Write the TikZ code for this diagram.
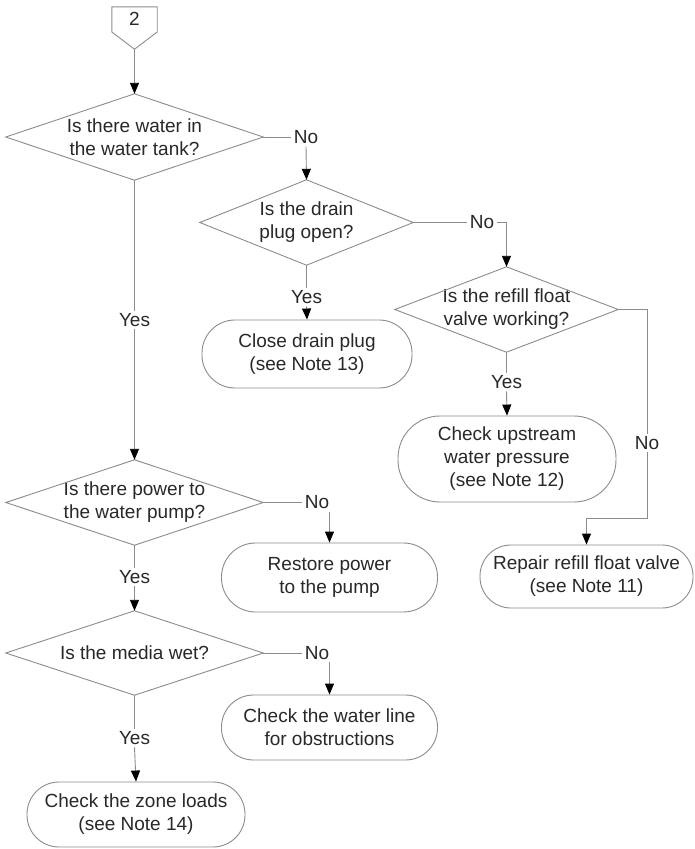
\documentclass[tikz,border=0pt]{standalone}
\usepackage{fontspec}
\setmainfont{Liberation Sans}
\usetikzlibrary{arrows.meta}
\definecolor{lc}{RGB}{140,140,140}
\definecolor{tc}{RGB}{40,40,40}
\begin{document}
\begin{tikzpicture}[x=1pt,y=-1pt,
  txt/.style={font=\fontsize{19}{23}\selectfont, text=tc, align=center},
  term/.style={txt, draw=lc, line width=0.9pt, rounded corners=#1, inner sep=0pt},
  term/.default=31pt,
  decision/.style={txt, inner sep=0pt},
  lab/.style={txt, inner sep=2.5pt},
  conn/.style={draw=lc, line width=0.9pt},
  arr/.style={conn, -{Triangle[length=11pt,width=9pt,color=black]}}]
\fill[white] (0,0) rectangle (694,849);
\useasboundingbox (0,0) rectangle (694,849);

% off-page connector
\node[txt, minimum width=45pt, minimum height=42pt, inner sep=0pt] (c2) at (134.5,28) {};
\node[txt] (c2t) at (134.5,19) {2};
\draw[conn] (c2.north west) -- (c2.north east) -- ([yshift=-4pt]c2.east) -- (c2.south) -- ([yshift=-4pt]c2.west) -- cycle;

% decisions
\node[decision, minimum width=257pt, minimum height=86pt] (d1) at (134.5,137) {Is there water in\\the water tank?};
\node[decision, minimum width=213pt, minimum height=85pt] (d2) at (306.5,222.5) {Is the drain\\plug open?};
\node[decision, minimum width=223pt, minimum height=85pt] (d3) at (506.5,309.5) {Is the refill float\\valve working?};
\node[decision, minimum width=257pt, minimum height=85pt] (d4) at (134.5,502.5) {Is there power to\\the water pump?};
\node[decision, minimum width=257pt, minimum height=84pt] (d5) at (134.5,653) {Is the media wet?};
\foreach \n in {d1,d2,d3,d4,d5}
  \draw[conn] (\n.north) -- (\n.east) -- (\n.south) -- (\n.west) -- cycle;

% terminals
\node[term=33pt, minimum width=210pt, minimum height=68pt] (t1) at (307,354) {Close drain plug\\(see Note 13)};
\node[term=42pt, minimum width=218pt, minimum height=86pt] (t3) at (507,459) {Check upstream\\water pressure\\(see Note 12)};
\node[term=31pt, minimum width=213pt, minimum height=63pt] (t5) at (586.5,576.5) {Repair refill float valve\\(see Note 11)};
\node[term=34pt, minimum width=216pt, minimum height=69pt] (t2) at (329.5,577.5) {Restore power\\to the pump};
\node[term=32pt, minimum width=216pt, minimum height=65pt] (t4) at (329.5,727.5) {Check the water line\\for obstructions};
\node[term=32pt, minimum width=218pt, minimum height=65pt] (t6) at (136,814.5) {Check the zone loads\\(see Note 14)};

% labels
\node[lab] (no1) at (306,137) {No};
\node[lab] (no2) at (482,222.5) {No};
\node[lab] (no3) at (647,443) {No};
\node[lab] (no4) at (317,502.5) {No};
\node[lab] (no5) at (317,653) {No};
\node[lab] (yes1) at (134.5,320) {Yes};
\node[lab] (yes2) at (306.5,297) {Yes};
\node[lab] (yes3) at (506.5,382) {Yes};
\node[lab] (yes4) at (134.5,577) {Yes};
\node[lab] (yes5) at (134.5,738) {Yes};
\coordinate (k3) at (647,518);

% connectors
\draw[arr] (c2.south) -- (d1.north);
\draw[conn] (d1.east) -- (no1.west);
\draw[arr] (no1.south) -- (d2.north);
\draw[conn] (d2.east) -- (no2.west);
\draw[arr] (no2.east) -| (d3.north);
\draw[conn] (d3.east) -| (no3.north);
\draw[arr] (no3.south) -- (k3) -| (t5.north);
\draw[conn] (d2.south) -- (yes2.north);
\draw[arr] (yes2.south) -- (t1.north);
\draw[conn] (d3.south) -- (yes3.north);
\draw[arr] (yes3.south) -- (t3.north);
\draw[conn] (d1.south) -- (yes1.north);
\draw[arr] (yes1.south) -- (d4.north);
\draw[conn] (d4.east) -- (no4.west);
\draw[arr] (no4.south -| t2.north) -- (t2.north);
\draw[conn] (d4.south) -- (yes4.north);
\draw[arr] (yes4.south) -- (d5.north);
\draw[conn] (d5.east) -- (no5.west);
\draw[arr] (no5.south -| t4.north) -- (t4.north);
\draw[conn] (d5.south) -- (yes5.north);
\draw[arr] (yes5.south) -- (t6.north);
\end{tikzpicture}
\end{document}
